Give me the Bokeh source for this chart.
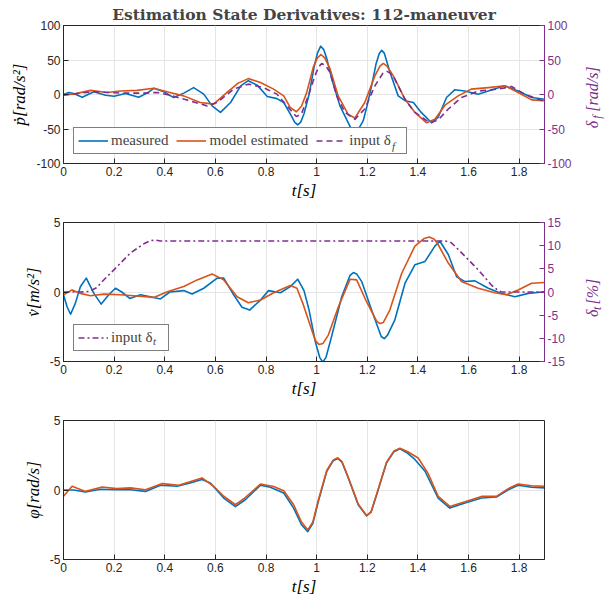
import math
from bokeh.plotting import figure
from bokeh.models import (LinearAxis, Range1d, Legend, LegendItem, Label,
                          FixedTicker, CustomJSTickFormatter)
from bokeh.layouts import column, row
from bokeh.embed import file_html
from bokeh.resources import INLINE

# ---------------- data ----------------
x_ticks = [0, 0.2, 0.4, 0.6, 0.8, 1, 1.2, 1.4, 1.6, 1.8]

# panel 1: roll acceleration p_dot [rad/s^2] and steering input delta_f [rad/s]
t_p_meas = [0, 0.021, 0.04, 0.074, 0.12, 0.166, 0.2, 0.245, 0.297, 0.33, 0.357, 0.396,
            0.435, 0.475, 0.514, 0.554, 0.587, 0.62, 0.66, 0.70, 0.73, 0.765, 0.805,
            0.843, 0.87, 0.90, 0.913, 0.925, 0.937, 0.95, 0.97, 0.99, 1.003, 1.016,
            1.028, 1.04, 1.06, 1.092, 1.125, 1.138, 1.151, 1.164, 1.184, 1.2, 1.217,
            1.235, 1.247, 1.257, 1.267, 1.29, 1.322, 1.349, 1.382, 1.413, 1.454, 1.48,
            1.513, 1.546, 1.585, 1.638, 1.678, 1.743, 1.796, 1.849, 1.9]
p_meas = [0, 3, 1.5, -4, 4, -1, -2.5, 1.5, -4, 2, 9, 4,
          -4.5, 2, 10, 0.5, -16.5, -26, -11.6, 12.6, 20, 13.6, -3,
          -6, -11.6, -31, -40, -44, -40, -28, 0, 40, 60, 70,
          65, 52, 22, -16.5, -41, -51, -54, -51, -38, -15, 12.6,
          45, 59, 64, 60, 32, -2, -9, -11.6, -26, -41, -33,
          -4.4, 7, 5, 0.5, 5, 12.6, 5, -4.4, -7]

t_p_model = [0, 0.04, 0.107, 0.172, 0.225, 0.29, 0.357, 0.42, 0.475, 0.54, 0.593, 0.646,
             0.69, 0.73, 0.778, 0.83, 0.87, 0.896, 0.92, 0.94, 0.96, 0.987, 1.003, 1.017,
             1.032, 1.053, 1.085, 1.125, 1.151, 1.19, 1.23, 1.25, 1.263, 1.278, 1.303,
             1.349, 1.388, 1.434, 1.467, 1.507, 1.559, 1.61, 1.678, 1.743, 1.796, 1.849, 1.9]
p_model = [0, 0.5, 6, 3, 5, 6, 9, 3, -2, -11.6, -14, 3,
           16.5, 23, 17.5, 7.8, -2, -19, -25, -17, 2, 40, 53, 58,
           53, 37, -2, -29, -34, -11.6, 27, 41, 45, 41, 27,
           -7, -26, -41, -36, -15.5, -2, 7.8, 10, 12.6, 3, -7.8, -9]

t_delta_f = [0, 0.067, 0.12, 0.225, 0.317, 0.37, 0.42, 0.488, 0.567, 0.607, 0.672, 0.73,
             0.79, 0.843, 0.883, 0.92, 0.94, 0.967, 0.993, 1.008, 1.02, 1.035, 1.053,
             1.079, 1.112, 1.151, 1.19, 1.23, 1.262, 1.276, 1.29, 1.309, 1.349, 1.388,
             1.447, 1.48, 1.52, 1.572, 1.638, 1.717, 1.77, 1.822, 1.9]
delta_f = [-1, 2, 4, 2, 2, 3, -1, -8, -16.5, -11.6, 7.8, 15,
           10, 0.5, -16.5, -32, -28, -2, 27, 40, 45, 42, 32,
           -2, -26, -36, -21, 12.6, 31, 34, 31, 22, -7, -26,
           -41, -37, -21, -4.4, 5, 7.8, 11.6, 0.5, -10]

# panel 2: lateral acceleration v_dot [m/s^2] and throttle input delta_t [%]
t_v_meas = [0, 0.014, 0.028, 0.047, 0.067, 0.09, 0.12, 0.149, 0.179, 0.205, 0.23, 0.262,
            0.304, 0.343, 0.383, 0.42, 0.475, 0.508, 0.554, 0.607, 0.633, 0.672, 0.705,
            0.735, 0.778, 0.81, 0.857, 0.896, 0.925, 0.95, 0.97, 0.995, 1.012, 1.024,
            1.037, 1.059, 1.099, 1.132, 1.145, 1.158, 1.178, 1.217, 1.255, 1.267, 1.28,
            1.309, 1.349, 1.388, 1.428, 1.467, 1.487, 1.52, 1.553, 1.586, 1.625, 1.678,
            1.73, 1.783, 1.836, 1.9]
v_meas = [-0.2, -1.06, -1.6, -0.8, 0.4, 1.0, -0.1, -0.87, -0.2, 0.27, 0, -0.46,
          -0.2, -0.34, -0.5, 0, 0.1, -0.15, 0.27, 1.0, 1.0, -0.2, -1.1,
          -1.3, -0.58, 0.1, -0.05, 0.39, 0.92, 0.1, -1.3, -3.6, -4.7, -5.05,
          -4.7, -3.2, -0.34, 1.2, 1.4, 1.3, 0.75, -1.3, -3.2, -3.36, -3.1,
          -2.0, 0.63, 1.96, 2.2, 3.3, 3.65, 2.7, 1.1, 0.75, 0.8, 0.27,
          -0.1, -0.34, -0.1, 0.02]

t_v_model = [0, 0.034, 0.067, 0.107, 0.159, 0.225, 0.29, 0.357, 0.41, 0.475, 0.528, 0.587,
             0.633, 0.686, 0.73, 0.778, 0.83, 0.896, 0.922, 0.945, 0.967, 0.995, 1.009,
             1.025, 1.046, 1.086, 1.132, 1.158, 1.197, 1.237, 1.25, 1.263, 1.289, 1.336,
             1.388, 1.425, 1.445, 1.465, 1.48, 1.52, 1.572, 1.638, 1.704, 1.75, 1.796,
             1.849, 1.9]
v_model = [-0.2, 0.15, -0.1, -0.27, -0.15, -0.2, -0.29, -0.39, 0.02, 0.39, 0.87, 1.3,
           0.87, -0.34, -0.77, -0.58, -0.05, 0.46, 0.27, -0.8, -2.0, -3.5, -3.77,
           -3.7, -3.1, -1.06, 0.92, 0.87, -0.7, -2.1, -2.27, -2.2, -1.3, 1.35,
           3.3, 3.85, 3.96, 3.8, 3.4, 2.08, 0.75, 0.27, -0.05, -0.2, 0.15,
           0.63, 0.68]

t_delta_t = [0, 0.067, 0.1, 0.13, 0.159, 0.212, 0.264, 0.317, 0.345, 0.365, 0.383,
             1.507, 1.53, 1.546, 1.586, 1.638, 1.69, 1.715, 1.73, 1.9]
delta_t = [0, 0, 0.1, 0.9, 2.6, 5.5, 8.4, 10.4, 11.1, 11.2, 11.0,
           11.0, 10.7, 9.9, 7.7, 4.8, 1.5, 0.4, 0, 0]

# panel 3: roll rate phi_dot [rad/s]
t_phi_meas = [0, 0.04, 0.087, 0.146, 0.21, 0.264, 0.324, 0.383, 0.449, 0.5, 0.547, 0.58,
              0.633, 0.679, 0.718, 0.778, 0.817, 0.87, 0.909, 0.94, 0.965, 0.985, 1.007,
              1.04, 1.065, 1.083, 1.1, 1.125, 1.164, 1.197, 1.215, 1.237, 1.276, 1.305,
              1.329, 1.355, 1.388, 1.428, 1.48, 1.526, 1.586, 1.651, 1.71, 1.757, 1.796,
              1.849, 1.9]
phi_meas = [0, 0, -0.15, 0.05, 0.02, 0.02, -0.1, 0.34, 0.27, 0.5, 0.75, 0.5,
            -0.58, -1.2, -0.7, 0.34, 0.2, -0.22, -1.3, -2.5, -3.0, -2.4, -0.8,
            1.35, 2.1, 2.27, 2.0, 0.87, -1.06, -1.86, -1.6, -0.34, 1.96, 2.75,
            2.97, 2.7, 2.2, 1.35, -0.58, -1.3, -0.94, -0.58, -0.5, 0.02, 0.34,
            0.2, 0.15]

t_phi_model = [0, 0.034, 0.087, 0.153, 0.21, 0.264, 0.324, 0.39, 0.455, 0.547, 0.593,
               0.633, 0.679, 0.718, 0.778, 0.83, 0.87, 0.909, 0.94, 0.965, 0.985, 1.007,
               1.04, 1.065, 1.083, 1.1, 1.125, 1.164, 1.197, 1.215, 1.237, 1.276, 1.305,
               1.329, 1.36, 1.401, 1.44, 1.48, 1.526, 1.586, 1.651, 1.71, 1.757, 1.796,
               1.849, 1.9]
phi_model = [-0.45, 0.27, -0.1, 0.22, 0.1, 0.15, 0.02, 0.46, 0.34, 0.87, 0.27,
             -0.45, -1.06, -0.55, 0.43, 0.25, -0.05, -1.06, -2.3, -2.87, -2.3, -0.7,
             1.4, 2.15, 2.32, 2.05, 0.9, -1.0, -1.84, -1.55, -0.3, 2.0, 2.8,
             3.0, 2.75, 2.3, 1.2, -0.45, -1.18, -0.85, -0.46, -0.46, 0.1, 0.43,
             0.3, 0.27]

# ---------------- styling ----------------
BLUE = "#0072BD"
ORANGE = "#D95319"
PURPLE = "#7E2F8E"
AX = "#262626"
GRID = "#e5e5e5"
SERIF = "Liberation Serif"
SANS = "Liberation Sans"
W = 606
SIDE = 25          # strip at the far right that carries the rotated right-axis titles
LB = 63

fmt = CustomJSTickFormatter(code="return String(Math.round(tick*10)/10)")


def style_axis(ax, color=AX, ticks=None):
    if ticks is not None:
        ax.ticker = FixedTicker(ticks=ticks)
    ax.formatter = fmt
    ax.axis_line_color = color
    ax.major_tick_line_color = color
    ax.major_tick_in = 5
    ax.major_tick_out = 0
    ax.minor_tick_line_color = None
    ax.major_label_text_color = color
    ax.major_label_text_font = SANS
    ax.major_label_text_font_size = "12px"
    ax.major_label_standoff = 3
    ax.axis_label_text_font = SERIF
    ax.axis_label_text_font_style = "italic"
    ax.axis_label_text_font_size = "17px"
    ax.axis_label_text_color = "black"
    ax.axis_label_standoff = 2


def make_fig(width, height, top, bottom, yr, yticks, ylabel):
    p = figure(width=width, height=height, x_range=Range1d(0, 1.9), y_range=Range1d(*yr),
               output_backend="svg", toolbar_location=None,
               min_border_left=LB, min_border_right=W - 544 - (W - width),
               min_border_top=top, min_border_bottom=bottom)
    p.outline_line_color = AX
    p.outline_line_width = 1
    style_axis(p.xaxis[0], ticks=x_ticks)
    p.xaxis.axis_label = "t[s]"
    style_axis(p.yaxis[0], ticks=yticks)
    p.yaxis.axis_label = ylabel
    p.yaxis[0].axis_label_standoff = 4
    p.xgrid.ticker = FixedTicker(ticks=x_ticks)
    p.ygrid.ticker = FixedTicker(ticks=yticks)
    p.grid.grid_line_color = GRID
    p.grid.grid_line_width = 1
    return p


def side_strip(height, top, bottom, yr, parts):
    # parts: (text, size, x in strip [0..1], y start in data units)
    s = figure(width=SIDE, height=height, x_range=Range1d(0, 1), y_range=Range1d(*yr),
               output_backend="svg", toolbar_location=None,
               x_axis_type=None, y_axis_type=None,
               min_border_left=0, min_border_right=0,
               min_border_top=top, min_border_bottom=bottom)
    s.outline_line_color = None
    s.grid.visible = False
    for text, size, xx, yy in parts:
        s.add_layout(Label(x=xx, y=yy, text=text, angle=math.pi / 2,
                           text_align="left", text_baseline="middle",
                           text_font=SERIF, text_font_style="italic",
                           text_font_size=f"{size}px", text_color=PURPLE))
    return s


def make_legend(p, items, loc):
    # label_width leaves room after "input δ" for the subscript drawn on top
    leg = Legend(items=items, location=loc, orientation="horizontal",
                 border_line_color="black", border_line_width=1,
                 background_fill_color="white", background_fill_alpha=1,
                 label_text_font=SERIF, label_text_font_size="15px",
                 glyph_width=30, glyph_height=17, label_height=17, label_width=53,
                 label_standoff=3, spacing=8, padding=4, margin=0)
    p.add_layout(leg)
    return leg


def sub_legend(p, renderer, text, loc):
    # the subscript of "input δ": a bare, transparent legend drawn over the main one
    leg = Legend(items=[LegendItem(label=text, renderers=[renderer])], location=loc,
                 orientation="horizontal", border_line_color=None,
                 background_fill_alpha=0, label_text_font=SERIF,
                 label_text_font_style="italic", label_text_font_size="11px",
                 glyph_width=0, glyph_height=13, label_height=13, label_width=4,
                 label_standoff=0, spacing=0, padding=0, margin=0)
    p.add_layout(leg)
    return leg


# ---------------- panel 1 ----------------
p1 = make_fig(W - SIDE, 202, 25, 38, (-100, 100), [-100, -50, 0, 50, 100], "ṗ[rad/s²]")
p1.title.text = "Estimation State Derivatives: 112-maneuver"
p1.title.align = "center"
p1.title.text_font = "DejaVu Serif"
p1.title.text_font_style = "bold"
p1.title.text_font_size = "15.5px"
p1.title.standoff = 4
p1.extra_y_ranges = {"r": Range1d(-100, 100)}
ax_r1 = LinearAxis(y_range_name="r")
style_axis(ax_r1, color=PURPLE, ticks=[-100, -50, 0, 50, 100])
p1.add_layout(ax_r1, "right")

r_m1 = p1.line(t_p_meas, p_meas, color=BLUE, line_width=1.6, line_join="round")
r_e1 = p1.line(t_p_model, p_model, color=ORANGE, line_width=1.6, line_join="round")
r_d1 = p1.line(t_delta_f, delta_f, color=PURPLE, line_width=1.6, line_dash="6 4",
               y_range_name="r")
make_legend(p1, [LegendItem(label="measured", renderers=[r_m1]),
                 LegendItem(label="model estimated", renderers=[r_e1]),
                 LegendItem(label="input δ", renderers=[r_d1])], (10, 9))
sub_legend(p1, r_d1, "f", (329, 11))
s1 = side_strip(202, 25, 38, (-100, 100),
                [("δ", 16, 0.44, -49), ("f", 12, 0.6, -35), ("[rad/s]", 16, 0.44, -25)])

# ---------------- panel 2 ----------------
p2 = make_fig(W - SIDE, 198, 20, 38, (-5, 5), [-5, 0, 5], "v̇[m/s²]")
p2.extra_y_ranges = {"r": Range1d(-15, 15)}
ax_r2 = LinearAxis(y_range_name="r")
style_axis(ax_r2, color=PURPLE, ticks=[-15, -10, -5, 0, 5, 10, 15])
p2.add_layout(ax_r2, "right")
p2.line(t_v_meas, v_meas, color=BLUE, line_width=1.6, line_join="round")
p2.line(t_v_model, v_model, color=ORANGE, line_width=1.6, line_join="round")
r_d2 = p2.line(t_delta_t, delta_t, color=PURPLE, line_width=1.6, line_dash="6 3 2 3",
               y_range_name="r")
make_legend(p2, [LegendItem(label="input δ", renderers=[r_d2])], (10, 10))
sub_legend(p2, r_d2, "t", (90, 14))
s2 = side_strip(198, 20, 38, (-5, 5),
                [("δ", 16, 0.44, -1.8), ("t", 12, 0.6, -1.3), ("[%]", 16, 0.44, -0.9)])

# ---------------- panel 3 ----------------
p3 = make_fig(W, 201, 20, 42, (-5, 5), [-5, 0, 5], "φ̇[rad/s]")
p3.line(t_phi_meas, phi_meas, color=BLUE, line_width=1.6, line_join="round")
p3.line(t_phi_model, phi_model, color=ORANGE, line_width=1.6, line_join="round")

layout = column(row(p1, s1, spacing=0), row(p2, s2, spacing=0), p3, spacing=0)
open("out.html", "w").write(file_html(layout, INLINE))
